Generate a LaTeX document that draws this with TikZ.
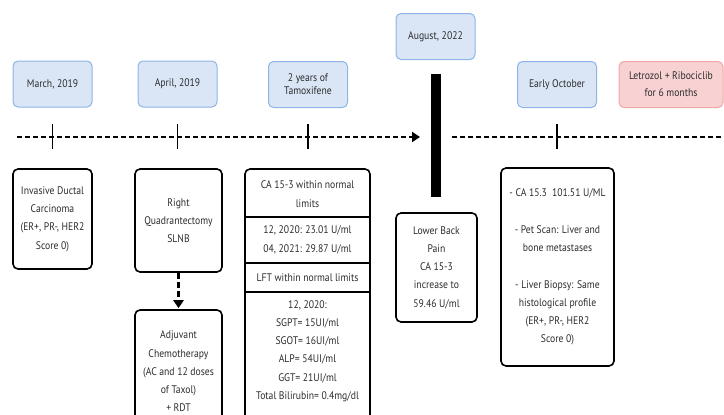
\documentclass[tikz,border=0pt]{standalone}
\usepackage{fontspec}
\setmainfont{PT Sans}[FakeStretch=0.88]
\usepackage{tikz}
\usetikzlibrary{arrows.meta, positioning}
\definecolor{datefill}{HTML}{DAE6F6}
\definecolor{dateline}{HTML}{8DB4E6}
\definecolor{planfill}{HTML}{F8D2D2}
\definecolor{planline}{HTML}{F0A6A6}
\definecolor{inkgray}{HTML}{2C2C2C}

\begin{document}
\begin{tikzpicture}[x=1pt, y=-1pt]
\tikzset{datebox/.style = {draw=dateline, fill=datefill, line width=1pt, rounded corners=5pt,
            minimum width=79pt, minimum height=46pt, align=center, text=inkgray,
            font=\fontsize{11}{13}\selectfont},
         planbox/.style = {datebox, draw=planline, fill=planfill, minimum width=104pt,
            font=\fontsize{11}{17}\selectfont},
         eventbox/.style = {draw, line width=1.6pt, rounded corners=5pt, align=center,
            text=inkgray, font=\fontsize{11}{18.3}\selectfont},
         boxtext/.style = {align=center, text=inkgray, font=\fontsize{11}{18.3}\selectfont},
         timeline/.style = {dashed, dash pattern=on 5pt off 3pt, line width=2.8pt},
         timetick/.style = {line width=1.8pt},
         edge/.style = {-{Triangle[length=8pt, width=10pt]}}}
\useasboundingbox (0,0) rectangle (724,415);
            % dates
	\node[datebox] (march) at (52.5,84) {March, 2019};
	\node[datebox] (april) at (177.5,84) {April, 2019};
	\node[datebox] (tamox) at (308,84.5) {2 years of\\Tamoxifene};
	\node[datebox] (august) at (435.5,36.5) {August, 2022};
	\node[datebox] (october) at (557,84.5) {Early October};
	\node[planbox] (letro) at (671,84.5) {Letrozol + Ribociclib\\for 6 months};
	\node[fill=black, inner sep=0pt, minimum width=10pt, minimum height=123pt] (bar) at (436,135.5) {};
            % events
	\node[eventbox, minimum width=79pt, minimum height=100pt] (idc) at (52.5,219)
		{Invasive Ductal\\Carcinoma\\(ER+, PR-, HER2\\Score 0)};
	\node[eventbox, minimum width=87pt, minimum height=103pt] (surgery) at (178.5,220.5)
		{Right\\Quadrantectomy\\SLNB};
	\node[eventbox, minimum width=87pt, minimum height=123pt] (chemo) at (178.5,371.5)
		{Adjuvant\\Chemotherapy\\(AC and 12 doses\\of Taxol)\\+ RDT};
	\node[eventbox, minimum width=125pt, minimum height=251pt] (labs) at (307.5,294.5) {};
	\node[boxtext] (ca1) at (307.5,194) {CA 15-3 within normal\\limits};
	\node[boxtext] (ca2) at (307.5,240) {12, 2020: 23.01 U/ml\\04, 2021: 29.87 U/ml};
	\node[boxtext] (lft1) at (307.5,277.5) {LFT within normal limits};
	\node[boxtext] (lft2) at (307.5,351)
		{12, 2020:\\SGPT= 15UI/ml\\SGOT= 16UI/ml\\ALP= 54UI/ml\\GGT= 21UI/ml\\Total Bilirubin= 0.4mg/dl};
	\node[eventbox, minimum width=81pt, minimum height=109pt] (backpain) at (436.5,267.5)
		{Lower Back\\Pain\\CA 15-3\\increase to\\59.46 U/ml};
	\node[eventbox, minimum width=113pt, minimum height=198pt] (relapse) at (557.5,267)
		{- CA 15.3\ \ 101.51 U/ML\\[18.3pt]- Pet Scan: Liver and\\bone metastases\\[18.3pt]- Liver Biopsy: Same\\histological profile\\(ER+, PR-, HER2\\Score 0)};
	\coordinate (d1) at (307.5,217);
	\coordinate (d2) at (307.5,263);
	\coordinate (d3) at (307.5,292);
	\coordinate (t0) at (17,137);
	\coordinate (t1) at (420,137);
	\coordinate (t2) at (452,137);
	\coordinate (t3) at (724,137);
            %edges
	\draw[timeline, edge] (t0) to (t1);
	\draw[timeline] (t2) to (t3);
	\foreach \d in {march, april, tamox, october}
		\draw[timetick] (\d |- t0) ++(0,-13) -- ++(0,25);
	\draw[line width=1.6pt] (labs.west |- d1) -- (labs.east |- d1);
	\draw[line width=1.6pt] (labs.west |- d2) -- (labs.east |- d2);
	\draw[line width=1.6pt] (labs.west |- d3) -- (labs.east |- d3);
	\draw[edge, dashed, dash pattern=on 6pt off 3pt, line width=2.4pt,
		shorten >=1pt] (surgery) to (chemo);
\end{tikzpicture}
\end{document}
